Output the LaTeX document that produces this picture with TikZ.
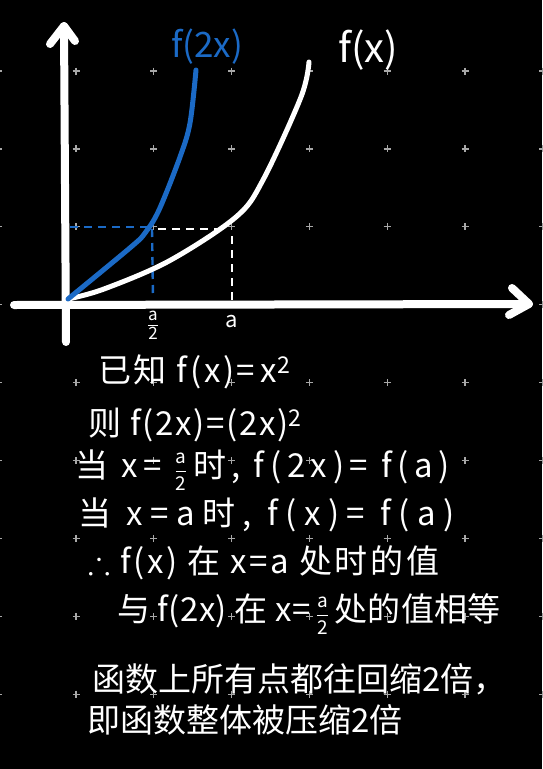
\documentclass[tikz,border=0pt]{standalone}
\usepackage{amsmath,amssymb}
\usepackage{fontspec}
\setmainfont{Noto Sans CJK SC}
\usetikzlibrary{arrows.meta,positioning}
\definecolor{hblue}{HTML}{1B6AC6}
\definecolor{hgrid}{HTML}{A8A8A8}
\newcommand{\halfof}[3][17]{$\frac{\raisebox{#3}{\fontsize{#1}{#1}\selectfont #2}}{\raisebox{-#3}{\fontsize{#1}{#1}\selectfont 2}}$}
\newcommand{\spread}[1]{\addfontfeature{LetterSpace=#1}}

\begin{document}
\begin{tikzpicture}[x=1pt, y=-1pt,
    axis/.style={white, line width=8pt, line cap=round, line join=round},
    curve/.style={line width=5pt, line cap=round, smooth, tension=0.55},
    guide/.style={line width=2.4pt, dash pattern=on 8pt off 6pt},
    gridplus/.style={hgrid, line width=1.2pt},
    note/.style={white, anchor=west, inner sep=0pt, font=\fontsize{33}{36}\selectfont},
    tick/.style={white, inner sep=0pt, font=\fontsize{22}{22}\selectfont}
]
    \fill[black] (0,0) rectangle (542,769);
    \useasboundingbox (0,0) rectangle (542,769);

    % Grid
    \foreach \i in {-1,...,6} {
        \foreach \j in {0,...,8} {
            \draw[gridplus] ({76+77.8*\i-3.5},{71+77.9*\j}) -- ++(7,0)
                ({76+77.8*\i},{71+77.9*\j-3.5}) -- ++(0,7);
        }
    }

    % Axes
    \coordinate (xstart) at (14,305);
    \coordinate (xtip) at (529,304);
    \coordinate (ybottom) at (66,342);
    \coordinate (ytip) at (64,26);
    \draw[axis] (xstart) -- (xtip);
    \draw[axis] (512,288) -- (xtip) -- (509,315);
    \draw[axis] (ybottom) -- (ytip);
    \draw[axis] (50,44) -- (ytip) -- (75,41);

    % Guides
    \draw[guide, hblue] (70,227) -- (150,227);
    \draw[guide, white] (158,229) -- (222,229);
    \draw[guide, hblue] (152,229) -- (153,298);
    \draw[guide, white] (232,236) -- (232,300);

    % Curves
    \draw[curve, white] plot coordinates {(68,299) (104,289) (169,261) (236,217) (263,180) (301,97) (309,62)};
    \draw[curve, hblue] plot coordinates {(68,299) (131,247) (145,233) (159,210) (180,157) (190,123) (196,70)};

    \node[tick, text=hblue, font=\fontsize{35}{35}\selectfont] (ftwolab) at (207,47) {f(2x)};
    \node[tick, font=\fontsize{40}{40}\selectfont] (flab) at (368,50) {f(x)};
    \node[tick] (halflab) at (153,325) {\halfof{a}{2pt}};
    \node[tick] (alab) at (232,322) {a};

    % Notes
    \node[note] (given) at (98,372) {\spread{8}已知 f(x)=\,x\textsuperscript{2}};
    \node[note] (then) at (88,425) {\spread{5}则 f(2x)=(2x)\textsuperscript{2}};
    \node[note] (whenhalf) at (75,470) {\spread{17}当 x= \halfof[19]{a}{4pt}\,时, f(2x)= f(a)};
    \node[note] (whena) at (78,515) {\spread{23}当 x=a时, f(x)= f(a)};
    \node[note] (hence) at (88,563) {\spread{8}$\therefore$ f(x) 在 x=a 处时的值};
    \node[note] (equal) at (117,614) {\spread{1}与 f(2x) 在 x=\,\halfof[19]{a}{4pt}\,处的值相等};
    \node[note] (shrink) at (92,679) {函数上所有点都往回缩2倍，};
    \node[note] (whole) at (87,720) {即函数整体被压缩2倍};
\end{tikzpicture}
\end{document}
